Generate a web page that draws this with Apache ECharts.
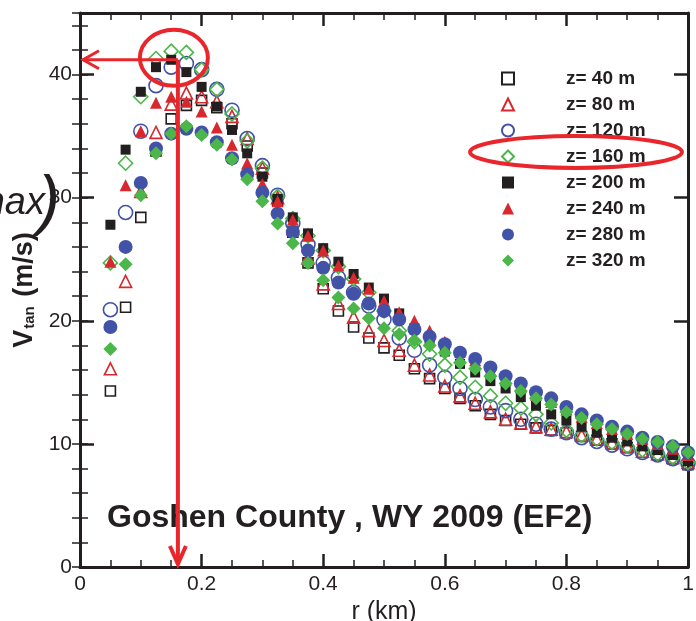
<!DOCTYPE html>
<html>
<head>
<meta charset="utf-8">
<script src="https://cdn.jsdelivr.net/npm/echarts@6/dist/echarts.min.js"></script>
<style>
  html, body { margin: 0; padding: 0; background: #fff; }
  #chart { width: 696px; height: 621px; }
</style>
</head>
<body>
<div id="chart"></div>
<script>
// radius (km)
const rValues = [0.05, 0.075, 0.1, 0.125, 0.15, 0.175, 0.2, 0.225, 0.25, 0.275,
  0.3, 0.325, 0.35, 0.375, 0.4, 0.425, 0.45, 0.475, 0.5, 0.525,
  0.55, 0.575, 0.6, 0.625, 0.65, 0.675, 0.7, 0.725, 0.75, 0.775,
  0.8, 0.825, 0.85, 0.875, 0.9, 0.925, 0.95, 0.975, 1.0]

// tangential velocity (m/s) per height
const v40 = [14.3, 21.1, 28.4, 33.8, 36.4, 37.5, 37.9, 37.3, 36.0, 34.2, 32.0, 29.8, 27.2, 24.7, 22.6, 20.8, 19.5, 18.6, 17.8, 17.2, 16.1, 15.3, 14.5, 13.7, 13.1, 12.4, 11.9, 11.6, 11.3, 11.1, 10.9, 10.6, 10.3, 10.0, 9.7, 9.3, 9.1, 8.8, 8.3]
const v80 = [16.1, 23.2, 30.5, 35.3, 37.6, 38.5, 38.2, 37.8, 36.6, 34.8, 32.4, 30.0, 27.5, 25.1, 23.0, 21.4, 20.3, 19.2, 18.4, 17.6, 16.4, 15.6, 14.7, 13.9, 13.3, 12.6, 12.0, 11.7, 11.4, 11.2, 11.0, 10.7, 10.4, 10.1, 9.8, 9.4, 9.2, 8.9, 8.5]
const v120 = [20.9, 28.8, 35.4, 39.1, 40.6, 40.9, 40.4, 38.8, 37.1, 34.8, 32.6, 30.2, 27.9, 26.2, 24.7, 23.5, 22.3, 21.2, 20.1, 18.6, 17.6, 16.4, 15.4, 14.5, 13.6, 13.0, 12.7, 12.0, 11.6, 11.2, 10.9, 10.5, 10.2, 9.9, 9.6, 9.3, 9.1, 8.8, 8.4]
const v160 = [24.7, 32.8, 38.2, 41.3, 41.9, 41.8, 40.4, 38.8, 36.8, 34.6, 32.4, 30.1, 28.3, 26.9, 25.7, 24.4, 23.4, 22.3, 20.8, 19.2, 18.3, 17.3, 16.4, 15.4, 14.6, 13.9, 13.3, 12.9, 12.4, 11.7, 11.1, 10.7, 10.4, 10.1, 9.8, 9.5, 9.2, 8.9, 8.5]
const v200 = [27.8, 33.9, 38.6, 40.6, 41.2, 40.2, 39.0, 37.4, 35.5, 33.6, 31.7, 29.9, 28.4, 27.1, 25.9, 24.8, 23.8, 22.7, 21.8, 20.6, 19.4, 18.3, 17.5, 16.5, 15.8, 15.1, 14.5, 13.8, 13.1, 12.4, 11.9, 11.4, 10.9, 10.5, 10.2, 9.8, 9.5, 9.1, 8.6]
const v240 = [24.8, 31.0, 35.4, 37.7, 38.2, 37.8, 37.0, 35.7, 34.3, 32.8, 31.1, 29.7, 28.2, 26.9, 25.7, 24.5, 23.5, 22.6, 21.6, 20.7, 20.0, 19.2, 18.3, 17.5, 16.8, 16.0, 15.2, 14.6, 14.0, 13.4, 12.8, 12.2, 11.7, 11.2, 10.8, 10.4, 10.0, 9.6, 9.1]
const v280 = [19.5, 26.0, 31.2, 34.0, 35.2, 35.6, 35.3, 34.5, 33.2, 31.9, 30.4, 28.7, 27.2, 25.7, 24.3, 23.1, 22.2, 21.4, 20.8, 20.1, 19.3, 18.7, 18.1, 17.4, 16.9, 16.2, 15.5, 14.9, 14.2, 13.7, 13.0, 12.4, 11.9, 11.4, 11.0, 10.5, 10.15, 9.8, 9.3]
const v320 = [17.7, 24.6, 30.2, 33.6, 35.2, 35.8, 35.1, 34.3, 33.1, 31.5, 29.7, 27.9, 26.3, 24.7, 23.3, 21.9, 21.0, 20.2, 19.4, 18.9, 18.4, 18.0, 17.4, 16.6, 16.1, 15.5, 14.9, 14.3, 13.7, 13.2, 12.6, 12.1, 11.6, 11.2, 10.8, 10.4, 10.15, 9.8, 9.3]

const seriesNames = ['z= 40 m', 'z= 80 m', 'z= 120 m', 'z= 160 m', 'z= 200 m', 'z= 240 m', 'z= 280 m', 'z= 320 m']

// peak marked by the red arrows (r, Vtan)
const peakR = 0.161
const peakV = 41.2

const BLACK = '#231f20'
const RED = '#d7282f'
const BLUE = '#4252a6'
const GREEN = '#4bb649'
const MARK = '#e8262b'
const FONT = '"Liberation Sans", Arial, sans-serif'

const pairs = vals => rValues.map((r, i) => [r, vals[i]])

// open markers: transparent fill + coloured outline
const openStyle = c => ({ color: 'transparent', borderColor: c, borderWidth: 1.6, opacity: 1 })
const fillStyle = c => ({ color: c, opacity: 1 })

const markers = [
  { data: v40, symbol: 'rect', size: 10, style: openStyle(BLACK) },
  { data: v80, symbol: 'triangle', size: 12, style: openStyle(RED) },
  { data: v120, symbol: 'circle', size: 14, style: openStyle(BLUE) },
  { data: v160, symbol: 'diamond', size: 14, style: openStyle(GREEN) },
  { data: v200, symbol: 'rect', size: 10, style: fillStyle(BLACK) },
  { data: v240, symbol: 'triangle', size: 12, style: fillStyle(RED) },
  { data: v280, symbol: 'circle', size: 14, style: fillStyle(BLUE) },
  { data: v320, symbol: 'diamond', size: 14, style: fillStyle(GREEN) }
]

const chart = echarts.init(document.getElementById('chart'), null, { renderer: 'canvas' })

const frameLine = { show: true, onZero: false, lineStyle: { color: BLACK, width: 3 } }
const majorTick = { show: true, inside: true, length: 13, lineStyle: { color: BLACK, width: 2.5 } }
const minorTick = { show: true, length: 7, lineStyle: { color: BLACK, width: 1.5 } }

const option = {
  animation: false,
  backgroundColor: '#fff',
  textStyle: { fontFamily: FONT },
  grid: { left: 80, right: 8, top: 13, bottom: 54, containLabel: false, outerBoundsMode: 'none' },
  title: {
    text: 'Goshen County , WY 2009 (EF2)',
    left: 107,
    top: 502,
    padding: 0,
    textStyle: { fontFamily: FONT, fontSize: 32, fontWeight: 'bold', color: BLACK }
  },
  legend: {
    orient: 'vertical',
    left: 496,
    top: 63,
    itemWidth: 12,
    itemHeight: 12,
    itemGap: 5,
    selectedMode: false,
    data: seriesNames,
    textStyle: {
      fontFamily: FONT, fontSize: 19, fontWeight: 'bold', color: BLACK,
      lineHeight: 21, padding: [0, 0, 0, 47]
    }
  },
  xAxis: [
    {
      type: 'value', min: 0, max: 1, interval: 0.2, position: 'bottom',
      name: 'r (km)', nameLocation: 'middle', nameGap: 20,
      nameTextStyle: { fontFamily: FONT, fontSize: 25, color: BLACK },
      axisLine: frameLine, axisTick: majorTick,
      minorTick: Object.assign({ splitNumber: 4 }, minorTick),
      axisLabel: { fontFamily: FONT, fontSize: 21, color: BLACK, margin: 7 },
      splitLine: { show: false }
    },
    {
      type: 'value', min: 0, max: 1, interval: 0.2, position: 'top',
      axisLine: frameLine, axisTick: majorTick,
      minorTick: Object.assign({ splitNumber: 4 }, minorTick),
      axisLabel: { show: false }, splitLine: { show: false }
    }
  ],
  yAxis: [
    {
      type: 'value', min: 0, max: 45, interval: 10, position: 'left',
      name: '{v|V}{s|tan}{v| (m/s)}', nameLocation: 'middle', nameGap: 40, nameRotate: 90,
      nameTextStyle: {
        rich: {
          v: { fontFamily: FONT, fontSize: 27, fontWeight: 'bold', color: BLACK, lineHeight: 31, verticalAlign: 'bottom' },
          s: { fontFamily: FONT, fontSize: 15, fontWeight: 'bold', color: BLACK, lineHeight: 31, verticalAlign: 'bottom', padding: [0, 2, 0, 1] }
        }
      },
      axisLine: frameLine, axisTick: Object.assign({}, majorTick, { length: 14 }),
      axisLabel: {
        fontFamily: FONT, fontSize: 21, color: BLACK, margin: 8,
        formatter: v => (v % 10 === 0 ? String(v) : '')
      },
      splitLine: { show: false }
    },
    {
      type: 'value', min: 0, max: 45, interval: 10, position: 'right',
      axisLine: frameLine, axisTick: Object.assign({}, majorTick, { length: 14 }),
      axisLabel: { show: false }, splitLine: { show: false }
    },
    // minor ticks every 2 m/s on both sides
    {
      type: 'value', min: 0, max: 45, interval: 2, position: 'left',
      axisLine: { show: false }, axisTick: { show: true, inside: true, length: 8, lineStyle: { color: BLACK, width: 1.5 } },
      axisLabel: { show: false }, splitLine: { show: false }
    },
    {
      type: 'value', min: 0, max: 45, interval: 2, position: 'right',
      axisLine: { show: false }, axisTick: { show: true, inside: true, length: 8, lineStyle: { color: BLACK, width: 1.5 } },
      axisLabel: { show: false }, splitLine: { show: false }
    }
  ],
  series: markers.map((m, i) => ({
    name: seriesNames[i],
    type: 'scatter',
    xAxisIndex: 0,
    yAxisIndex: 0,
    symbol: m.symbol,
    symbolSize: m.size,
    itemStyle: m.style,
    data: pairs(m.data),
    emphasis: { disabled: true }
  }))
}

chart.setOption(option)

// red annotations
const p = chart.convertToPixel({ xAxisIndex: 0, yAxisIndex: 0 }, [peakR, peakV])
const o = chart.convertToPixel({ xAxisIndex: 0, yAxisIndex: 0 }, [0, 0])
const redLine = { fill: null, stroke: MARK, lineWidth: 3 }

chart.setOption({
  graphic: [
    {
      type: 'text', z: 50,
      style: { x: 45, y: 222, text: 'max', align: 'right', verticalAlign: 'bottom',
        font: 'italic 38px ' + FONT, fill: BLACK }
    },
    {
      type: 'text', z: 50,
      style: { x: 38, y: 204, text: ')', align: 'left', verticalAlign: 'middle',
        font: 'italic 66px ' + FONT, fill: BLACK }
    },
    {
      type: 'ellipse', z: 60,
      shape: { cx: p[0] - 4, cy: p[1] - 2, rx: 34, ry: 28 },
      style: { fill: null, stroke: MARK, lineWidth: 4 }
    },
    {
      type: 'polyline', z: 60,
      shape: { points: [[p[0], p[1]], [o[0] + 3, p[1]]] },
      style: redLine
    },
    {
      type: 'polyline', z: 60,
      shape: { points: [[o[0] + 19, p[1] - 9], [o[0] + 3, p[1]], [o[0] + 19, p[1] + 9]] },
      style: redLine
    },
    {
      type: 'polyline', z: 60,
      shape: { points: [[p[0], p[1]], [p[0], o[1] - 3]] },
      style: Object.assign({}, redLine, { lineWidth: 4 })
    },
    {
      type: 'polyline', z: 60,
      shape: { points: [[p[0] - 8, o[1] - 21], [p[0], o[1] - 3], [p[0] + 8, o[1] - 21]] },
      style: Object.assign({}, redLine, { lineWidth: 4 })
    },
    {
      // ring around the z= 160 m legend entry
      type: 'ellipse', z: 60,
      shape: { cx: 576, cy: 152, rx: 106, ry: 16 },
      style: { fill: null, stroke: MARK, lineWidth: 4 }
    }
  ]
})
</script>
</body>
</html>
